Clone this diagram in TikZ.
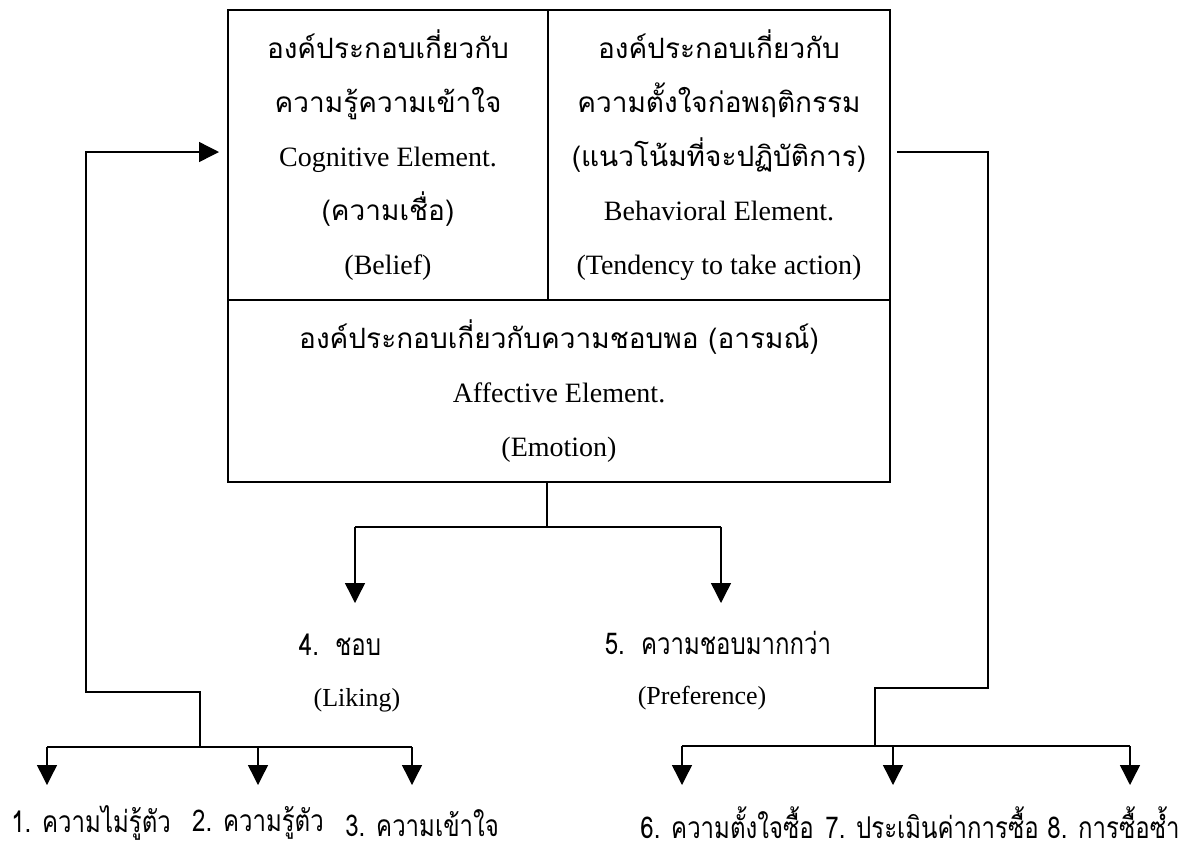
\documentclass[tikz,border=0pt]{standalone}
\usepackage{fontspec}
\setmainfont{Liberation Serif}
\newfontfamily\thai[Script=Thai]{Loma}
\newfontfamily\thailbl[Script=Thai,FakeStretch=0.8]{Loma}
\usetikzlibrary{arrows.meta}

\tikzset{
  cell/.style={draw, line width=1pt, inner sep=0pt, align=center,
    font=\fontsize{14}{27}\selectfont},
  link/.style={line width=0.7pt},
  arr/.style={link, -{Triangle[width=10pt,length=10pt]}},
  lbl/.style={inner sep=0pt, font=\thailbl\fontsize{15}{17}\selectfont},
  eng/.style={inner sep=0pt, font=\fontsize{13}{15}\selectfont},
}

\begin{document}
\begin{tikzpicture}[x=0.5pt, y=-0.5pt]
  \useasboundingbox (0,0) rectangle (1184,848);
  % attitude box
  \node[cell, minimum width=160pt, minimum height=145pt] (cog) at (388,155)
    {{\thai องค์ประกอบเกี่ยวกับ}\\{\thai ความรู้ความเข้าใจ}\\Cognitive Element.\\{\thai (ความเชื่อ)}\\(Belief)};
  \node[cell, minimum width=171pt, minimum height=145pt] (beh) at (719,155)
    {{\thai องค์ประกอบเกี่ยวกับ}\\{\thai ความตั้งใจก่อพฤติกรรม}\\{\thai (แนวโน้มที่จะปฏิบัติการ)}\\Behavioral Element.\\(Tendency to take action)};
  \node[cell, minimum width=331pt, minimum height=91pt] (aff) at (559,391)
    {{\thai องค์ประกอบเกี่ยวกับความชอบพอ (อารมณ์)}\\Affective Element.\\(Emotion)};

  % labels
  \node[lbl] (like) at (340,645) {4.\ \ ชอบ};
  \node[eng] (likeen) at (357,700) {(Liking)};
  \node[lbl] (pref) at (718,643) {5.\ \ ความชอบมากกว่า};
  \node[eng] (prefen) at (702,698) {(Preference)};
  \node[lbl, anchor=west] (s1) at (11,823) {1. ความไม่รู้ตัว};
  \node[lbl] (s2) at (258,823) {2. ความรู้ตัว};
  \node[lbl, anchor=west] (s3) at (345,823) {3. ความเข้าใจ};
  \node[lbl, anchor=west] (s6) at (640,823) {6. ความตั้งใจซื้อ};
  \node[lbl, anchor=west] (s7) at (825,823) {7. ประเมินค่าการซื้อ};
  \node[lbl, anchor=west] (s8) at (1047,823) {8. การซื้อซ้ำ};

  % bends and arrow ends
  \coordinate (e1) at (547,527);
  \coordinate (e4) at (355,527);
  \coordinate (e5) at (721,527);
  \coordinate (t4) at (355,603);
  \coordinate (t5) at (721,603);
  \coordinate (lv) at (86,692);
  \coordinate (lb) at (200,747);
  \coordinate (a1) at (47,747);
  \coordinate (a3) at (412,747);
  \coordinate (t1) at (47,785);
  \coordinate (t2) at (258,785);
  \coordinate (t3) at (412,785);
  \coordinate (rv) at (988,152);
  \coordinate (rj) at (988,688);
  \coordinate (rb) at (875,746);
  \coordinate (a6) at (682,746);
  \coordinate (a8) at (1130,746);
  \coordinate (t6) at (682,785);
  \coordinate (t7) at (893,785);
  \coordinate (t8) at (1130,785);

  % emotion branch
  \draw[link] (e1 |- aff.south) -- (e1);
  \draw[link] (e4) -- (e5);
  \draw[arr] (e4) -- (t4);
  \draw[arr] (e5) -- (t5);

  % cognitive loop
  \draw[arr, shorten >=4pt] (lb) |- (lv) |- (cog.west |- rv);
  \draw[link] (a1) -- (a3);
  \draw[arr] (a1) -- (t1);
  \draw[arr] (t2 |- a1) -- (t2);
  \draw[arr] (a3) -- (t3);

  % behavioral loop
  \draw[link, shorten <=3pt] (beh.east |- rv) -- (rv) -- (rj) -| (rb);
  \draw[link] (a6) -- (a8);
  \draw[arr] (a6) -- (t6);
  \draw[arr] (t7 |- a6) -- (t7);
  \draw[arr] (a8) -- (t8);
\end{tikzpicture}
\end{document}
